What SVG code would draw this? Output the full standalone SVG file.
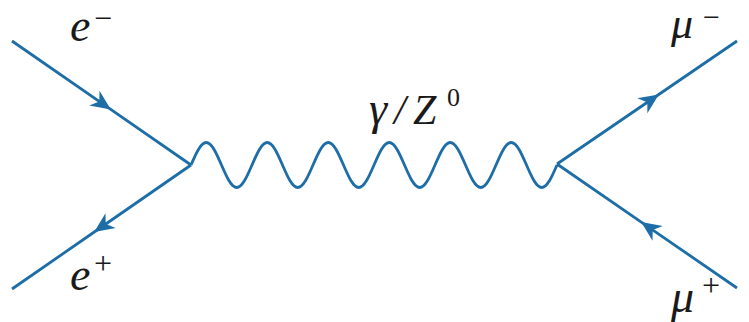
<svg xmlns="http://www.w3.org/2000/svg" width="749" height="322" viewBox="0 0 749 322">
<style>
.ln{fill:none;stroke:#1d6ea7;stroke-width:2.8;stroke-linecap:butt;stroke-linejoin:miter}
.fl{marker-mid:url(#arr)}
.lab{font-family:"Liberation Serif","Times New Roman",serif;font-style:italic;fill:#1a1a1a}
.big{font-size:46px}
.sup{font-size:32px;font-style:normal}
</style>
<defs>
<marker id="arr" viewBox="-24 -12 28 24" refX="0" refY="0" markerWidth="28" markerHeight="24" markerUnits="userSpaceOnUse" orient="auto">
<path d="M1,0 L-19,-9 L-13,0 L-19,9 Z" fill="#1d6ea7"/>
</marker>
</defs>
<rect width="749" height="322" fill="#ffffff"/>
<g id="connectors">
<path id="e-minus-line" class="ln fl" d="M12,41 L110,108.9 L191,165"/>
<path id="e-plus-line" class="ln fl" d="M191,165 L95,231.5 L12,289"/>
<path id="mu-minus-line" class="ln fl" d="M557,164 L658,95 L737,41"/>
<path id="mu-plus-line" class="ln fl" d="M737,288 L642,222.6 L557,164"/>
<path id="photon" class="ln" d="M191,165 c4.973,-11.53 9.731,-22.5 15.25,-22.5 s10.277,10.97 15.25,22.5 s9.731,22.5 15.25,22.5 s10.277,-10.97 15.25,-22.5
s9.731,-22.5 15.25,-22.5 s10.277,10.97 15.25,22.5 s9.731,22.5 15.25,22.5 s10.277,-10.97 15.25,-22.5
s9.731,-22.5 15.25,-22.5 s10.277,10.97 15.25,22.5 s9.731,22.5 15.25,22.5 s10.277,-10.97 15.25,-22.5
s9.731,-22.5 15.25,-22.5 s10.277,10.97 15.25,22.5 s9.731,22.5 15.25,22.5 s10.277,-10.97 15.25,-22.5
s9.731,-22.5 15.25,-22.5 s10.277,10.97 15.25,22.5 s9.731,22.5 15.25,22.5 s10.277,-10.97 15.25,-22.5
s9.731,-22.5 15.25,-22.5 s10.277,10.97 15.25,22.5 s9.731,22.5 15.25,22.5 s10.277,-10.97 15.25,-22.5"/>
</g>
<g id="label-e-minus">
<text class="lab big" x="70" y="41">e</text>
<text class="lab sup" x="94" y="29">−</text>
</g>
<g id="label-e-plus">
<text class="lab big" x="70" y="290">e</text>
<text class="lab sup" x="94" y="274">+</text>
</g>
<g id="label-mu-minus">
<text class="lab" style="font-size:44px" x="671" y="38">μ</text>
<text class="lab" style="font-size:30px;font-style:normal" x="703" y="27">−</text>
</g>
<g id="label-mu-plus">
<text class="lab big" x="671" y="312">μ</text>
<text class="lab sup" x="702" y="296">+</text>
</g>
<g id="label-gamma-z">
<text class="lab" style="font-size:46px" x="369" y="124">γ</text>
<text class="lab" style="font-size:42px" x="394" y="124">/</text>
<text class="lab" style="font-size:42px" x="413" y="124">Z</text>
<text class="lab" style="font-size:26px;font-style:normal" x="447" y="106">0</text>
</g>
</svg>
